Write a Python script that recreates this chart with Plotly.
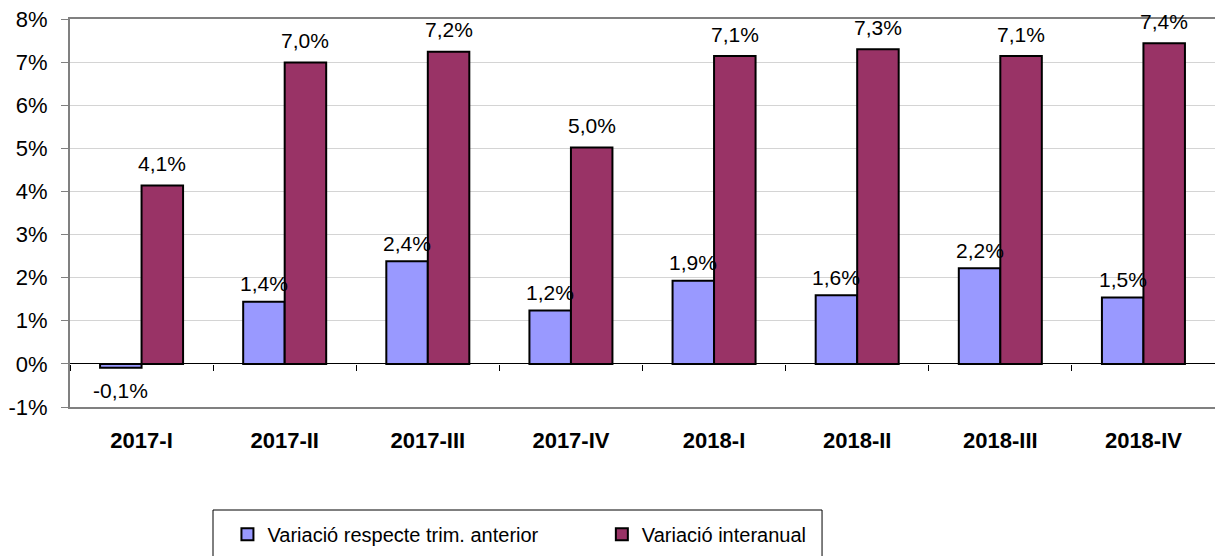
import plotly.graph_objects as go

categories = ["2017-I", "2017-II", "2017-III", "2017-IV", "2018-I", "2018-II", "2018-III", "2018-IV"]
var_trim = [-0.09, 1.44, 2.38, 1.24, 1.93, 1.59, 2.22, 1.54]
var_inter = [4.14, 6.99, 7.24, 5.02, 7.14, 7.30, 7.14, 7.44]
name_trim = "Variació respecte trim. anterior"
name_inter = "Variació interanual"
ytick_vals = [-1, 0, 1, 2, 3, 4, 5, 6, 7, 8]
ytick_text = [f"{v}%" for v in ytick_vals]

FONT = "Liberation Sans, Arial, sans-serif"
BLUE = "#9999FF"
RED = "#993366"

def fmt(v):
    return f"{v:.1f}".replace(".", ",") + "%"

fig = go.Figure()
fig.add_trace(go.Bar(x=categories, y=var_trim, name=name_trim, legend="legend",
                     marker=dict(color=BLUE, line=dict(color="black", width=2))))
fig.add_trace(go.Bar(x=categories, y=var_inter, name=name_inter, legend="legend2",
                     marker=dict(color=RED, line=dict(color="black", width=2))))
# helper trace for boundary ticks on the zero line
fig.add_trace(go.Scatter(x=categories, y=[None] * len(categories), xaxis="x2", yaxis="y",
                         showlegend=False, hoverinfo="skip", mode="markers"))

half = 20.75
annotations = []
for c, b, r in zip(categories, var_trim, var_inter):
    annotations.append(dict(x=c, y=r, xref="x", yref="y", text=fmt(r), showarrow=False,
                            xshift=half, yshift=22, yanchor="middle",
                            font=dict(family=FONT, size=21, color="black")))
    annotations.append(dict(x=c, y=b, xref="x", yref="y", text=fmt(b), showarrow=False,
                            xshift=-half, yshift=18 if b >= 0 else -23, yanchor="middle",
                            font=dict(family=FONT, size=21, color="black")))

legend_common = dict(orientation="h", yanchor="top", xanchor="left", y=-0.278,
                     bgcolor="rgba(0,0,0,0)", borderwidth=0, itemwidth=30,
                     font=dict(family=FONT, size=20, color="black"))

fig.update_layout(
    width=1223, height=556,
    margin=dict(l=62, r=16, t=11, b=157, autoexpand=False),
    paper_bgcolor="white", plot_bgcolor="white",
    barmode="group", bargap=0.42, bargroupgap=0,
    font=dict(family=FONT, size=20, color="black"),
    showlegend=True,
    legend=dict(x=0.1375, **legend_common),
    legend2=dict(x=0.4645, **legend_common),
    shapes=[dict(type="rect", xref="paper", yref="paper", x0=0.1249, x1=0.6568,
                 y0=-0.40, y1=-0.2655, line=dict(color="black", width=1),
                 fillcolor="rgba(0,0,0,0)", layer="below")],
    xaxis=dict(categoryorder="array", categoryarray=categories, range=[-0.5, 7.5],
               showline=True, linecolor="#808080", linewidth=2, mirror=True,
               ticks="", showgrid=False, ticklabelstandoff=13, automargin=False,
               ticklabeloverflow="allow",
               tickfont=dict(family=FONT, size=22, color="black", weight="bold")),
    xaxis2=dict(overlaying="x", anchor="free", position=1/9, side="bottom",
                categoryorder="array", categoryarray=categories, range=[-0.5, 7.5],
                tickson="boundaries", ticks="outside", ticklen=6, tickcolor="black", tickwidth=1,
                showticklabels=False, showgrid=False, showline=False, zeroline=False,
                automargin=False),
    yaxis=dict(range=[-1, 8], tickmode="array", tickvals=ytick_vals, ticktext=ytick_text,
               showline=True, linecolor="#808080", linewidth=2, mirror=True,
               ticks="outside", ticklen=7, tickcolor="#808080", tickwidth=1,
               showgrid=True, gridcolor="#D4D4D4", gridwidth=1,
               zeroline=True, zerolinecolor="black", zerolinewidth=1,
               ticklabelstandoff=9, automargin=False, ticklabeloverflow="allow",
               tickfont=dict(family=FONT, size=22, color="black")),
    annotations=annotations,
)

fig.write_html("out.html")
